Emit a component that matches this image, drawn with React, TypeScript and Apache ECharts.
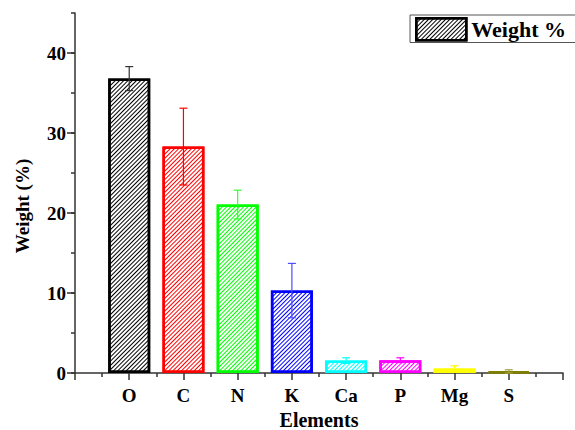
import React, { useEffect, useRef } from "react";
import * as echarts from "echarts";

const categories = ["O", "C", "N", "K", "Ca", "P", "Mg", "S"];
const weights = [36.8, 28.3, 21.05, 10.3, 1.55, 1.6, 0.55, 0.2];
const errors = [1.5, 4.8, 1.8, 3.4, 0.35, 0.3, 0.35, 0.2];
const colors = ["#000000", "#ff0000", "#00ff00", "#0000ff", "#00ffff", "#ff00ff", "#ffff00", "#808000"];
const errColors = ["#333333", "#ff0000", "#33ff33", "#4d4dff", "#00ffff", "#ff00ff", "#ffff00", "#a0a040"];
const yMajorTicks = [0, 10, 20, 30, 40];

const FONT = "'Liberation Serif', 'Times New Roman', serif";

const makeDecal = (c: string) => ({
  symbol: "rect",
  symbolSize: 1,
  dashArrayX: [1, 0],
  dashArrayY: [1, 1.4],
  rotation: -Math.PI / 4,
  color: c,
  backgroundColor: "#ffffff",
});

export default function App() {
  const ref = useRef<HTMLDivElement>(null);
  useEffect(() => {
    if (!ref.current) return;
    const chart = echarts.init(ref.current, null, { renderer: "svg" });
    const barData = weights.map((v, i) => ({
      value: [i + 1, v],
      itemStyle: {
        color: "#ffffff",
        borderColor: colors[i],
        borderWidth: 2.5,
        decal: makeDecal(colors[i]),
      },
    }));
    const errData = weights.map((v, i) => [i + 1, v, errors[i], i]);
    const axisLineStyle = { color: "#333333", width: 1.5 };
    chart.setOption({
      animation: false,
      grid: { left: 75, right: 12, top: 13, bottom: 57, containLabel: false, outerBoundsMode: "none" },
      legend: {
        data: ["Weight %"],
        right: -1,
        top: 15,
        padding: [2, 10, 1, 5],
        borderColor: "#555555",
        borderWidth: 1,
        borderRadius: 0,
        icon: "rect",
        itemWidth: 50,
        itemHeight: 22,
        textStyle: { fontFamily: FONT, fontWeight: "bold", fontSize: 22, color: "#000" },
        itemStyle: {
          color: "#ffffff",
          borderColor: "#000000",
          borderWidth: 2.5,
          decal: makeDecal("#000000"),
        },
      },
      graphic: [
        {
          type: "text",
          x: 22,
          y: 206,
          rotation: Math.PI / 2,
          style: {
            text: "Weight (%)",
            fontFamily: FONT,
            fontWeight: "bold",
            fontSize: 19,
            fill: "#000",
            textAlign: "center",
            textVerticalAlign: "middle",
          },
        },
      ],
      xAxis: {
        type: "value",
        min: 0,
        max: 9,
        interval: 1,
        name: "Elements",
        nameLocation: "middle",
        nameGap: 35,
        nameTextStyle: { fontFamily: FONT, fontWeight: "bold", fontSize: 20, color: "#000" },
        axisLine: { show: true, lineStyle: axisLineStyle },
        axisTick: { show: true, length: 7, lineStyle: axisLineStyle },
        minorTick: { show: true, splitNumber: 2, length: 4, lineStyle: axisLineStyle },
        splitLine: { show: false },
        minorSplitLine: { show: false },
        axisLabel: {
          margin: 13,
          fontFamily: FONT,
          fontWeight: "bold",
          fontSize: 19,
          color: "#000",
          formatter: (v: number) => (v >= 1 && v <= categories.length ? categories[v - 1] : ""),
        },
      },
      yAxis: [
        {
          type: "value",
          min: 0,
          max: 45,
          interval: 5,
          axisLine: { show: true, lineStyle: axisLineStyle },
          axisTick: { show: true, length: 4, lineStyle: axisLineStyle },
          splitLine: { show: false },
          axisLabel: {
            margin: 9,
            fontFamily: FONT,
            fontWeight: "bold",
            fontSize: 19,
            color: "#000",
            formatter: (v: number) => (v % 10 === 0 ? String(v) : ""),
          },
        },
        {
          type: "value",
          min: 0,
          max: 45,
          position: "left",
          axisLine: { show: false },
          axisTick: { show: true, length: 8, customValues: yMajorTicks, lineStyle: axisLineStyle },
          axisLabel: { show: false },
          splitLine: { show: false },
        },
      ],
      series: [
        {
          name: "Weight %",
          type: "bar",
          barWidth: 42,
          data: barData,
          itemStyle: {
            color: "#ffffff",
            borderColor: "#000000",
            borderWidth: 2.5,
            decal: makeDecal("#000000"),
          },
          z: 2,
        },
        {
          name: "err",
          type: "custom",
          z: 3,
          data: errData,
          renderItem: (params: any, api: any) => {
            const x = api.value(0);
            const y = api.value(1);
            const e = api.value(2);
            const idx = api.value(3);
            const top = api.coord([x, y + e]);
            const bot = api.coord([x, y - e]);
            const c = errColors[idx];
            const hw = 4;
            const style = { stroke: c, lineWidth: 1.2 };
            return {
              type: "group",
              children: [
                { type: "line", shape: { x1: top[0], y1: top[1], x2: bot[0], y2: bot[1] }, style },
                { type: "line", shape: { x1: top[0] - hw, y1: top[1], x2: top[0] + hw, y2: top[1] }, style },
                { type: "line", shape: { x1: bot[0] - hw, y1: bot[1], x2: bot[0] + hw, y2: bot[1] }, style },
              ],
            };
          },
        },
      ],
    });
    return () => chart.dispose();
  }, []);
  return <div ref={ref} style={{ width: 575, height: 430, position: "absolute", left: 0, top: 0 }} />;
}
